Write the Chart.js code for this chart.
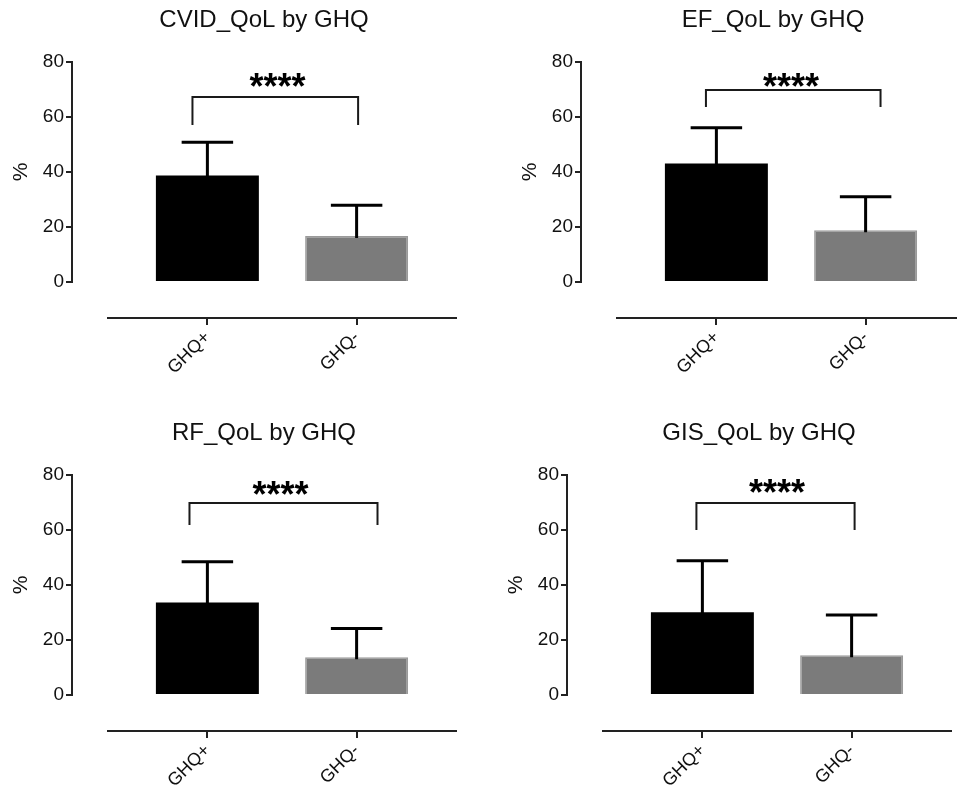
<!DOCTYPE html>
<html>
<head>
<meta charset="utf-8">
<script src="https://cdn.jsdelivr.net/npm/chart.js@4.4.1/dist/chart.umd.min.js"></script>
<style>
  html, body { margin: 0; padding: 0; background: #fff; width: 957px; height: 792px; overflow: hidden; }
  canvas { position: absolute; }
</style>
</head>
<body>
<canvas id="c0" width="528" height="396" style="left:0px;top:0px"></canvas>
<canvas id="c1" width="528" height="396" style="left:509px;top:0px"></canvas>
<canvas id="c2" width="528" height="396" style="left:0px;top:413px"></canvas>
<canvas id="c3" width="528" height="396" style="left:495px;top:413px"></canvas>
<script>
// values (mean %, upper SD)
const titles = ['CVID_QoL by GHQ', 'EF_QoL by GHQ', 'RF_QoL by GHQ', 'GIS_QoL by GHQ'];
const groups = ['GHQ+', 'GHQ-'];
const posMean = [38.7, 43.1, 33.6, 30.1];
const negMean = [16.7, 18.8, 13.7, 14.5];
const posSD = [12.1, 13.0, 14.9, 18.7];
const negSD = [11.2, 12.2, 10.5, 14.6];
const yTicks = [0, 20, 40, 60, 80];

// significance bracket for each panel
const sigText = '****';
const bracketTop = [67.3, 69.8, 69.8, 69.8];
const bracketLeg = [57.1, 63.6, 61.8, 60.0];
const bracketLeft = [-0.10, -0.07, -0.12, -0.04];
const bracketRight = [1.01, 1.10, 1.14, 1.02];
const starsX = [0.47, 0.50, 0.49, 0.50];
const starsY = [73.8, 73.8, 75.6, 76.4];

const FONT = '"Liberation Sans", Arial, Helvetica, sans-serif';
Chart.defaults.font.family = FONT;
Chart.defaults.color = '#111';

function fixSize(w, h) {
  return s => {
    if (w != null) s.width = w;
    if (h != null) s.height = h;
    s.paddingLeft = s.paddingRight = s.paddingTop = s.paddingBottom = 0;
  };
}

// empty axis used only to reserve space
function spacer(axis, position, weight, w, h) {
  return {
    type: 'linear', axis, position, weight, min: 0, max: 1,
    afterFit: fixSize(w, h),
    ticks: { display: false }, grid: { display: false }, border: { display: false }
  };
}

const extras = {
  id: 'extras',
  afterDatasetsDraw(chart, args, opts) {
    const p = opts.panel;
    const { ctx, scales: { x, y } } = chart;
    const bars = chart.getDatasetMeta(0).data;
    const means = [posMean[p], negMean[p]];
    const sds = [posSD[p], negSD[p]];
    ctx.save();
    // error bars (upper only)
    ctx.strokeStyle = '#000';
    ctx.lineWidth = 3;
    means.forEach((m, i) => {
      const px = x.getPixelForValue(i);
      const half = bars[i].width / 4;
      const yTop = y.getPixelForValue(m + sds[i]);
      ctx.beginPath();
      ctx.moveTo(px, y.getPixelForValue(m) + 2);
      ctx.lineTo(px, yTop);
      ctx.moveTo(px - half, yTop);
      ctx.lineTo(px + half, yTop);
      ctx.stroke();
    });
    // bracket
    ctx.strokeStyle = '#1a1a1a';
    ctx.lineWidth = 2;
    const xl = x.getPixelForValue(bracketLeft[p]);
    const xr = x.getPixelForValue(bracketRight[p]);
    const yt = y.getPixelForValue(bracketTop[p]);
    const yb = y.getPixelForValue(bracketLeg[p]);
    ctx.beginPath();
    ctx.moveTo(xl, yb);
    ctx.lineTo(xl, yt);
    ctx.lineTo(xr, yt);
    ctx.lineTo(xr, yb);
    ctx.stroke();
    // stars
    const fs = 36;
    ctx.fillStyle = '#000';
    ctx.font = 'bold ' + fs + 'px ' + FONT;
    ctx.textAlign = 'center';
    ctx.textBaseline = 'alphabetic';
    ctx.fillText(sigText, x.getPixelForValue(starsX[p]), y.getPixelForValue(starsY[p]) + 0.55 * fs);
    ctx.restore();
  }
};

titles.forEach((t, p) => {
  new Chart(document.getElementById('c' + p), {
    type: 'bar',
    data: {
      datasets: [{
        data: [{ x: 0, y: posMean[p] }, { x: 1, y: negMean[p] }],
        backgroundColor: ['#000000', '#7b7b7b'],
        borderColor: ['#000000', '#9a9a9a'],
        borderWidth: [0, 1.5],
        categoryPercentage: 1,
        barPercentage: 0.69,
        xAxisID: 'x',
        yAxisID: 'y'
      }]
    },
    options: {
      responsive: false,
      animation: false,
      devicePixelRatio: 1,
      layout: { padding: 0 },
      plugins: {
        legend: { display: false },
        tooltip: { enabled: false },
        title: {
          display: true,
          text: t,
          color: '#111',
          font: { size: 24, weight: 'normal' },
          padding: { top: 6, bottom: 27.2 }
        },
        extras: { panel: p }
      },
      scales: {
        y: {
          type: 'linear', axis: 'y', position: 'left', weight: 1,
          min: 0, max: 80,
          afterFit: fixSize(72, null),
          afterBuildTicks: s => { s.ticks = yTicks.map(v => ({ value: v })); },
          ticks: { font: { size: 19 }, color: '#111', padding: 2 },
          grid: { drawOnChartArea: false, tickLength: 6, color: '#222', lineWidth: 2 },
          border: { color: '#222', width: 2 },
          title: { display: true, text: '%', color: '#111', font: { size: 21 }, padding: { top: 9, bottom: 0 } }
        },
        ys: spacer('y', 'left', 0, 36, null),
        yr: spacer('y', 'right', 0, 72, null),
        x: {
          type: 'linear', axis: 'x', position: 'bottom', weight: 1,
          min: -0.666, max: 1.666, offset: false,
          afterFit: fixSize(null, 78),
          afterBuildTicks: s => { s.ticks = groups.map((g, i) => ({ value: i })); },
          ticks: {
            font: { size: 18 }, color: '#111', padding: 2,
            minRotation: 45, maxRotation: 45,
            callback: v => groups[v]
          },
          grid: { drawOnChartArea: false, offset: false, tickLength: 7, color: '#222', lineWidth: 2 },
          border: { color: '#222', width: 2 }
        },
        xs: spacer('x', 'bottom', 0, null, 36)
      }
    },
    plugins: [extras]
  });
});
</script>
</body>
</html>
